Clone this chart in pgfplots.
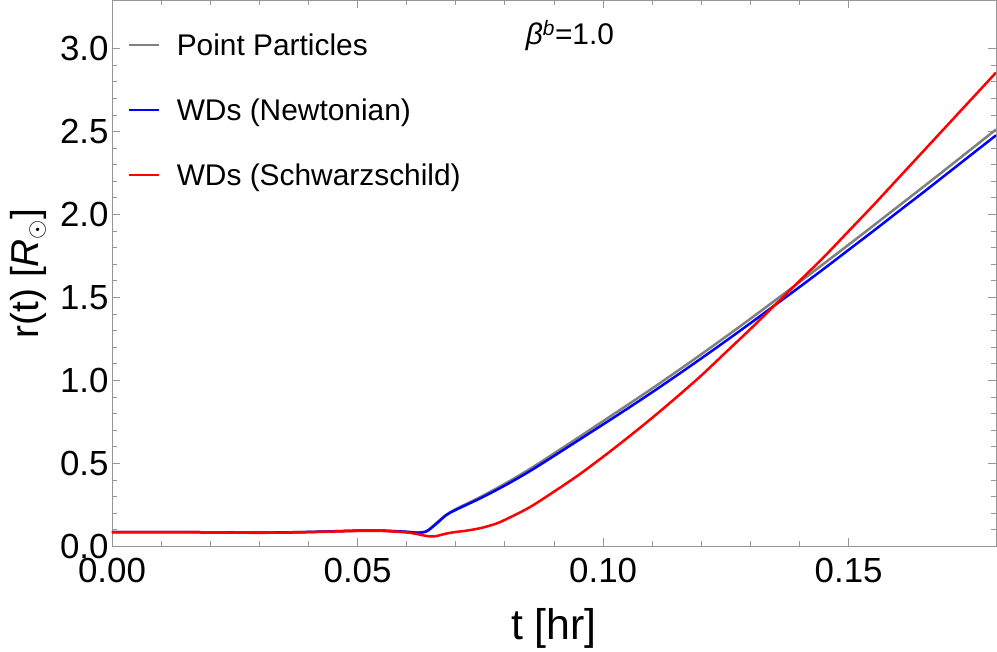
\documentclass[border=0pt]{standalone}
\usepackage{pgfplots}
\pgfplotsset{compat=1.18}
\usepackage{fontspec}
\setmainfont{Liberation Sans}

\definecolor{ppgray}{RGB}{128,128,128}
\definecolor{framegray}{RGB}{150,150,150}

\begin{document}
\begin{tikzpicture}
\begin{axis}[
    scale only axis,
    width=884bp, height=546bp,
    xmin=0, xmax=0.18,
    ymin=0, ymax=3.29,
    xtick={0,0.05,0.10,0.15},
    ytick={0,0.5,1.0,1.5,2.0,2.5,3.0},
    minor x tick num=4,
    minor y tick num=4,
    tick align=inside,
    major tick length=8bp,
    minor tick length=5bp,
    axis line style={framegray, line width=0.8bp},
    every tick/.style={framegray, line width=0.8bp},
    xticklabel style={yshift=-8bp, /pgf/number format/.cd, fixed, fixed zerofill, precision=2},
    yticklabel style={/pgf/number format/.cd, fixed, fixed zerofill, precision=1},
    /pgf/number format/assume math mode=true,
    ticklabel style={font=\fontsize{35}{40}\selectfont},
    xlabel={t [hr]},
    ylabel={r(t) [\textit{R}$_{\odot}$]},
    xlabel style={font=\fontsize{43}{50}\selectfont, at={(rel axis cs:0.5,0)}, anchor=center, yshift=-82bp},
    ylabel style={font=\fontsize{39}{46}\selectfont, at={(rel axis cs:0,0.5)}, anchor=center, yshift=84bp},
    legend cell align=left,
    legend image code/.code={\draw[#1, line width=2.2bp] (0bp,0bp) -- (30bp,0bp);},
    legend style={draw=none, fill=none, at={(0.014,0.947)}, anchor=north west,
        font=\fontsize{30}{35}\selectfont, row sep=38bp,
        /tikz/every odd column/.style={column sep=15bp}},
    every axis plot/.append style={line width=2.5bp},
]
\addplot[ppgray, smooth] coordinates {
(0,0.086) (0.01,0.086) (0.02,0.085) (0.03,0.083) (0.04,0.087) (0.05,0.095)
(0.055,0.095) (0.06,0.088) (0.062,0.083) (0.064,0.092) (0.066,0.14) (0.068,0.19)
(0.07,0.225) (0.075,0.2975) (0.08,0.3775) (0.085,0.465) (0.09,0.56) (0.095,0.657)
(0.10,0.755) (0.105,0.853) (0.11,0.952) (0.115,1.054) (0.12,1.158) (0.125,1.264)
(0.13,1.372) (0.135,1.482) (0.14,1.593) (0.145,1.705) (0.15,1.818) (0.155,1.932)
(0.16,2.047) (0.165,2.162) (0.17,2.278) (0.175,2.395) (0.18,2.512)
};
\addlegendentry{Point Particles}
\addplot[blue, smooth] coordinates {
(0,0.086) (0.01,0.086) (0.02,0.085) (0.03,0.083) (0.04,0.087) (0.05,0.095)
(0.055,0.095) (0.06,0.088) (0.062,0.083) (0.064,0.09) (0.066,0.135) (0.068,0.187)
(0.07,0.22) (0.075,0.29) (0.08,0.367) (0.085,0.452) (0.09,0.545) (0.095,0.64)
(0.10,0.735) (0.105,0.831) (0.11,0.929) (0.115,1.03) (0.12,1.133) (0.125,1.238)
(0.13,1.345) (0.135,1.454) (0.14,1.563) (0.145,1.674) (0.15,1.787) (0.155,1.90)
(0.16,2.015) (0.165,2.129) (0.17,2.245) (0.175,2.361) (0.18,2.477)
};
\addlegendentry{WDs (Newtonian)}
\addplot[red, smooth] coordinates {
(0,0.086) (0.01,0.086) (0.02,0.085) (0.03,0.082) (0.04,0.086) (0.05,0.093)
(0.055,0.093) (0.06,0.084) (0.062,0.075) (0.064,0.063) (0.065,0.06) (0.066,0.062)
(0.068,0.077) (0.07,0.087) (0.072,0.094) (0.075,0.11) (0.078,0.135) (0.08,0.16)
(0.085,0.235) (0.09,0.33) (0.095,0.43) (0.10,0.54) (0.105,0.655) (0.11,0.775)
(0.115,0.90) (0.12,1.03) (0.125,1.17) (0.13,1.31) (0.135,1.455) (0.14,1.60)
(0.145,1.745) (0.15,1.90) (0.155,2.055) (0.16,2.215) (0.165,2.375) (0.17,2.535)
(0.175,2.695) (0.18,2.855)
};
\addlegendentry{WDs (Schwarzschild)}
\node[font=\fontsize{30}{35}\selectfont] at (rel axis cs:0.518,0.936)
    {\textit{β}\textsuperscript{\textit{b}}=1.0};
\coordinate (sw) at (rel axis cs:0,0);
\coordinate (ne) at (rel axis cs:1,1);
\end{axis}
\path (sw) ++(-112bp,-99bp);
\path (ne) ++(1bp,0bp);
\end{tikzpicture}
\end{document}
